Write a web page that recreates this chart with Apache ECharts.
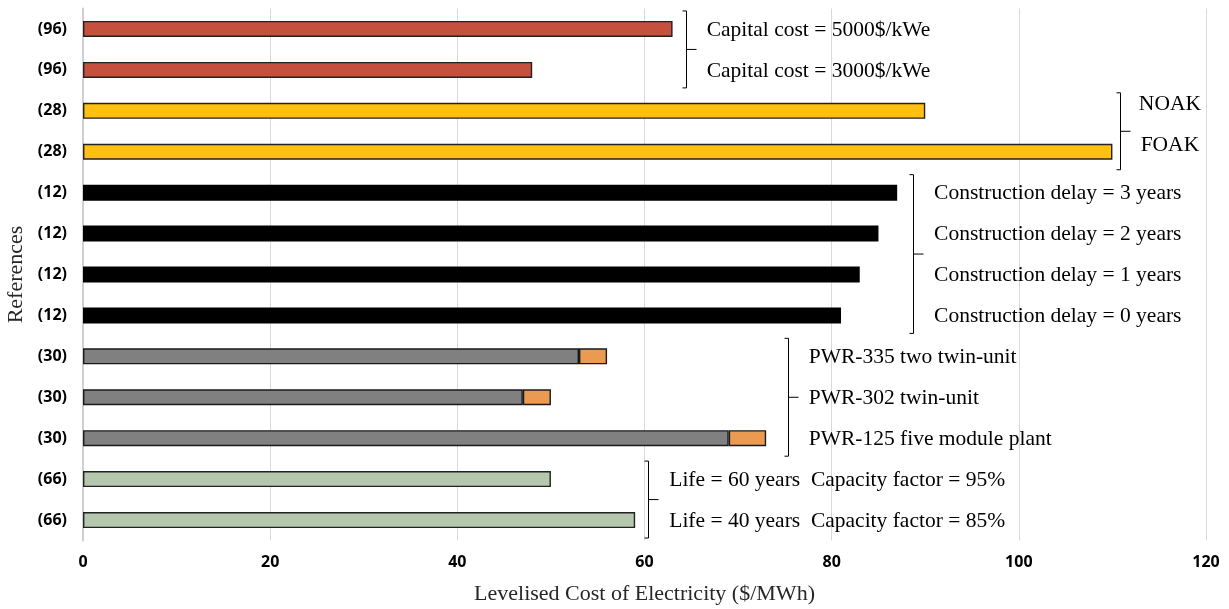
<!DOCTYPE html>
<html>
<head>
<meta charset="utf-8">
<style>html,body{margin:0;padding:0;background:#fff}#chart{width:1229px;height:609px}</style>
<script src="https://cdn.jsdelivr.net/npm/echarts@6/dist/echarts.min.js"></script>
</head>
<body>
<div id="chart"></div>
<script>
// ---- data ----
const categories = ['(96)','(96)','(28)','(28)','(12)','(12)','(12)','(12)','(30)','(30)','(30)','(66)','(66)'];
const capitalCost = [63, 48];            // rows 0-1
const learning = [90, 110];              // rows 2-3 (NOAK, FOAK)
const constructionDelay = [87, 85, 83, 81]; // rows 4-7
const pwrBase = [53, 47, 69];            // rows 8-10
const pwrExtra = [3, 3, 4];              // rows 8-10 (stacked)
const plantLife = [50, 59];              // rows 11-12
const xTicks = [0, 20, 40, 60, 80, 100, 120];

const annotationLabels = [
  'Capital cost = 5000$/kWe', 'Capital cost = 3000$/kWe',
  'NOAK', 'FOAK',
  'Construction delay = 3 years', 'Construction delay = 2 years', 'Construction delay = 1 years', 'Construction delay = 0 years',
  'PWR-335 two twin-unit', 'PWR-302 twin-unit', 'PWR-125 five module plant',
  'Life = 60 years  Capacity factor = 95%', 'Life = 40 years  Capacity factor = 85%'
];
const bracketX = [64.4, 110.8, 88.7, 75.3, 60.4];
const bracketFrom = [0, 2, 4, 8, 11];
const bracketTo = [1, 3, 7, 10, 12];

// ---- helpers ----
function place(values, start) {
  return categories.map((c, i) => (i >= start && i < start + values.length) ? values[i - start] : '-');
}
const colors = { red: '#C5503D', yellow: '#FFC010', black: '#000000', gray: '#808080', orange: '#EB9A52', green: '#B5C8AD' };
function barSeries(name, values, start, color, border) {
  return {
    name, type: 'bar', stack: 'lcoe', barWidth: 16,
    data: place(values, start),
    itemStyle: { color, borderColor: border, borderWidth: 1.4 },
    silent: true, animation: false
  };
}

const bracketData = bracketX.map((x, i) => [x, bracketFrom[i], bracketTo[i], i]);
const textData = annotationLabels.map((t, i) => {
  const g = bracketFrom.findIndex((f, k) => i >= f && i <= bracketTo[k]);
  return [bracketX[g], i, g];
});

const chart = echarts.init(document.getElementById('chart'));
chart.setOption({
  animation: false,
  grid: { left: 83, right: 23, top: 8.5, bottom: 68.5, containLabel: false, outerBoundsMode: 'none' },
  xAxis: {
    type: 'value', min: xTicks[0], max: xTicks[xTicks.length - 1], interval: 20,
    name: 'Levelised Cost of Electricity ($/MWh)', nameLocation: 'middle', nameGap: 43,
    nameTextStyle: { fontFamily: 'Liberation Serif', fontSize: 22, color: '#262626' },
    axisLine: { show: false }, axisTick: { show: false },
    axisLabel: { fontFamily: 'Open Sans', fontWeight: 'bold', fontSize: 16, color: '#000', margin: 14 },
    splitLine: { lineStyle: { color: '#d9d9d9', width: 1 } }
  },
  yAxis: {
    type: 'category', data: categories, inverse: true,
    name: 'References', nameLocation: 'middle', nameGap: 53, nameRotate: 90,
    nameTextStyle: { fontFamily: 'Liberation Serif', fontSize: 22, color: '#262626' },
    axisLine: { show: true, lineStyle: { color: '#d0d0d0', width: 2 } },
    axisTick: { show: false },
    axisLabel: { fontFamily: 'Open Sans', fontWeight: 'bold', fontSize: 16, color: '#000', margin: 16 }
  },
  series: [
    barSeries('Capital cost', capitalCost, 0, colors.red, '#222'),
    barSeries('Learning', learning, 2, colors.yellow, '#222'),
    barSeries('Construction delay', constructionDelay, 4, colors.black, '#000'),
    barSeries('PWR base', pwrBase, 8, colors.gray, '#1a1a1a'),
    barSeries('PWR extra', pwrExtra, 8, colors.orange, '#1a1a1a'),
    barSeries('Plant life', plantLife, 11, colors.green, '#222'),
    {
      type: 'custom', silent: true, z: 10,
      data: bracketData, encode: { x: 0, y: 1 },
      renderItem: function (params, api) {
        const band = api.size([0, 1])[1];
        const p1 = api.coord([api.value(0), api.value(1)]);
        const p2 = api.coord([api.value(0), api.value(2)]);
        const x = Math.round(p1[0]) + 0.5;
        const top = p1[1] - band * 0.44;
        const bot = p2[1] + band * 0.44;
        const mid = (top + bot) / 2;
        const st = { stroke: '#000', lineWidth: 1, fill: null };
        return { type: 'group', children: [
          { type: 'polyline', shape: { points: [[x - 4, top], [x, top], [x, bot], [x - 4, bot]] }, style: st },
          { type: 'line', shape: { x1: x, y1: mid, x2: x + 10, y2: mid }, style: st }
        ]};
      }
    },
    {
      type: 'custom', silent: true, z: 10,
      data: textData, encode: { x: 0, y: 1 },
      renderItem: function (params, api) {
        const p = api.coord([api.value(0), api.value(1)]);
        const g = api.value(2);
        const centered = g === 1;
        return {
          type: 'text',
          style: {
            text: annotationLabels[params.dataIndex],
            x: p[0] + (centered ? 50 : 21), y: p[1] + (centered ? -6 : 1),
            font: '21.5px "Liberation Serif"', fill: '#000',
            align: centered ? 'center' : 'left', verticalAlign: 'middle'
          }
        };
      }
    }
  ]
});
</script>
</body>
</html>
